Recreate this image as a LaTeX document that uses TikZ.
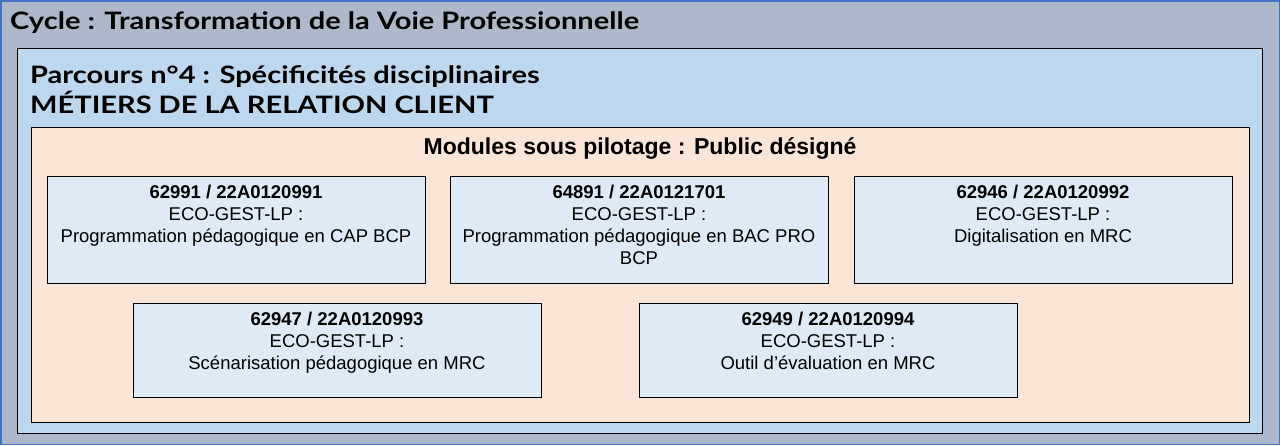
\documentclass[tikz,border=0pt]{standalone}
\usepackage{fontspec}
\setmainfont{Liberation Sans}
\newfontfamily\titlefont[FakeStretch=1.21]{Lato}
\definecolor{outerfill}{RGB}{173,185,202}
\definecolor{outerline}{RGB}{68,114,196}
\definecolor{innerfill}{RGB}{189,215,238}
\definecolor{peachfill}{RGB}{251,229,214}
\definecolor{modfill}{RGB}{222,235,247}
\begin{document}
\begin{tikzpicture}[x=1pt,y=-1pt,
  framebox/.style={draw=black, line width=1pt, anchor=north west, inner sep=0pt, outer sep=0pt},
  modbox/.style={framebox, fill=modfill, line width=0.9pt},
  modtext/.style={anchor=north, align=center, inner sep=0pt, font=\fontsize{18.5}{22}\selectfont},
  bigtitle/.style={anchor=base west, inner sep=0pt, font=\titlefont\bfseries\fontsize{24}{28}\selectfont}
]
\useasboundingbox (0,0) rectangle (1280,445);
\node[framebox, draw=outerline, line width=1.5pt, fill=outerfill, minimum width=1278.5pt, minimum height=443.5pt] (outer) at (0.75,0.75) {};
\node[framebox, fill=innerfill, minimum width=1245pt, minimum height=385pt] (inner) at (17.5,48) {};
\node[framebox, fill=peachfill, minimum width=1218pt, minimum height=295pt] (peach) at (31,127) {};

\node[bigtitle] (cycle) at (10,29) {Cycle : Transformation de la Voie Professionnelle};
\node[bigtitle] (parcours) at (30,83) {Parcours n°4 : Spécificités disciplinaires};
\node[bigtitle] (metiers) at (30,113) {MÉTIERS DE LA RELATION CLIENT};
\node[anchor=base, inner sep=0pt, font=\bfseries\fontsize{23}{26}\selectfont] (modules) at (640,154) {Modules sous pilotage : Public désigné};

\node[modbox, minimum width=378pt, minimum height=107pt] (m1) at (47,176) {};
\node[modbox, minimum width=378pt, minimum height=107pt] (m2) at (450,176) {};
\node[modbox, minimum width=378pt, minimum height=107pt] (m3) at (854,176) {};
\node[modbox, minimum width=408pt, minimum height=94pt] (m4) at (133,303) {};
\node[modbox, minimum width=378pt, minimum height=94pt] (m5) at (639,303) {};

\node[modtext] (t1) at ([yshift=-8.8pt]m1.north) {\textbf{62991 / 22A0120991}\\ECO-GEST-LP :\\Programmation pédagogique en CAP BCP};
\node[modtext] (t2) at ([yshift=-8.8pt]m2.north) {\textbf{64891 / 22A0121701}\\ECO-GEST-LP :\\Programmation pédagogique en BAC PRO\\BCP};
\node[modtext] (t3) at ([yshift=-8.8pt]m3.north) {\textbf{62946 / 22A0120992}\\ECO-GEST-LP :\\Digitalisation en MRC};
\node[modtext] (t4) at ([yshift=-8.8pt]m4.north) {\textbf{62947 / 22A0120993}\\ECO-GEST-LP :\\Scénarisation pédagogique en MRC};
\node[modtext] (t5) at ([yshift=-8.8pt]m5.north) {\textbf{62949 / 22A0120994}\\ECO-GEST-LP :\\Outil d’évaluation en MRC};
\end{tikzpicture}
\end{document}
